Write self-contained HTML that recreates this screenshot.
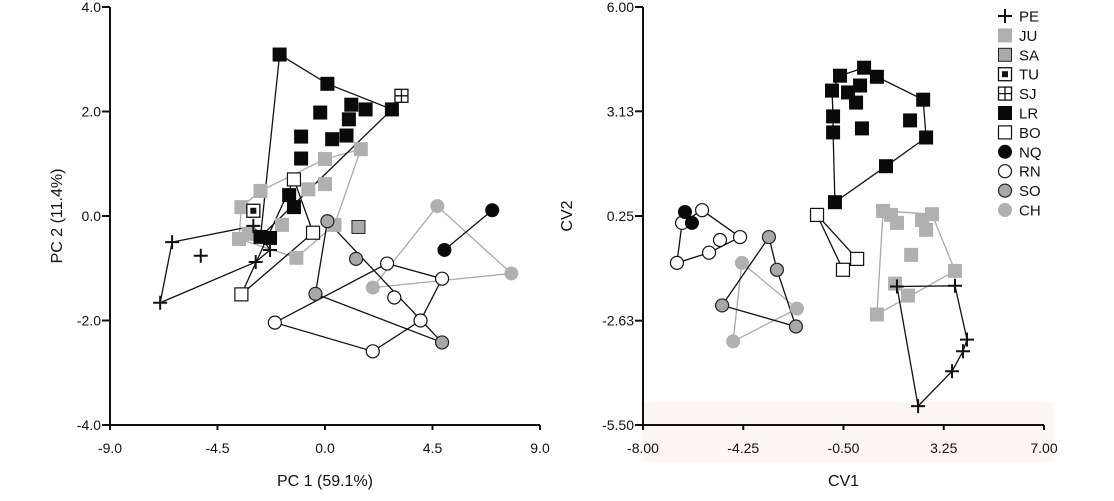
<!DOCTYPE html>
<html><head><meta charset="utf-8"><style>
body{margin:0;background:#fff;}
svg text{font-family:"Liberation Sans",Arial,sans-serif;fill:#111;}
</style></head><body>
<svg id="chart" width="1114" height="496" viewBox="0 0 1114 496" xmlns="http://www.w3.org/2000/svg">
<rect x="643" y="402" width="410" height="60" fill="#fcf6f4"/>
<g id="left"></g>
<g id="right"></g>
<g id="legend"></g>
</svg>
<script>
// ---------- data: PCA panel ----------
const pcaXTicks = [-9.0, -4.5, 0.0, 4.5, 9.0];
const pcaYTicks = [4.0, 2.0, 0.0, -2.0, -4.0];
const pcaLR = [[-1.9,3.09],[0.1,2.53],[1.1,2.13],[1.7,2.04],[2.8,2.04],[-0.2,1.98],[1.0,1.85],[-1.0,1.52],[0.3,1.47],[0.9,1.54],[-1.0,1.10],[-1.5,0.40],[-1.3,0.17],[-2.7,-0.40],[-2.3,-0.42]];
const pcaLRHull = [0,1,4,13];
const pcaJU = [[1.5,1.28],[0.0,1.09],[-2.7,0.48],[-3.5,0.17],[-0.7,0.51],[0.0,0.61],[-1.8,-0.17],[0.4,-0.17],[-3.6,-0.44],[-3.2,-0.34],[-1.2,-0.80]];
const pcaJUHull = [0,1,2,3,8,10,7];
const pcaSA = [[1.4,-0.21]];
const pcaTU = [[-3.0,0.10]];
const pcaSJ = [[3.2,2.3]];
const pcaBO = [[-1.3,0.70],[-0.5,-0.32],[-3.5,-1.50]];
const pcaBOHull = [0,1,2];
const pcaPE = [[-6.4,-0.50],[-5.2,-0.76],[-6.9,-1.66],[-3.0,-0.19],[-2.9,-0.88],[-2.3,-0.65]];
const pcaPEHull = [0,3,5,4,2];
const pcaNQ = [[7.0,0.11],[5.0,-0.65]];
const pcaNQHull = [0,1];
const pcaCH = [[4.7,0.19],[7.8,-1.10],[2.0,-1.37]];
const pcaCHHull = [0,1,2];
const pcaSO = [[0.1,-0.10],[1.3,-0.82],[-0.4,-1.49],[4.9,-2.42]];
const pcaSOHull = [0,3,2];
const pcaRN = [[2.6,-0.91],[4.9,-1.20],[2.9,-1.56],[4.0,-2.0],[-2.1,-2.04],[2.0,-2.59]];
const pcaRNHull = [0,1,3,5,4];
// ---------- data: CVA panel ----------
const cvaXTicks = ["-8.00","-4.25","-0.50","3.25","7.00"];
const cvaYTicks = ["6.00","3.13","0.25","-2.63","-5.50"];
const cvaLR = [[-0.63,4.11],[0.27,4.33],[0.75,4.08],[-0.93,3.70],[-0.33,3.65],[0.12,3.84],[-0.03,3.37],[2.48,3.45],[-0.89,2.99],[-0.89,2.55],[0.19,2.66],[1.99,2.88],[2.59,2.41],[1.09,1.62],[-0.82,0.63]];
const cvaLRHull = [0,1,2,7,12,13,14,9,8,3];
const cvaBO = [[-1.49,0.28],[0.01,-0.93],[-0.52,-1.23]];
const cvaBOHull = [0,1,2];
const cvaJU = [[0.98,0.39],[1.28,0.28],[1.50,0.06],[2.44,0.14],[2.81,0.30],[2.59,-0.13],[2.03,-0.82],[3.67,-1.26],[1.43,-1.61],[1.91,-1.94],[0.75,-2.46]];
const cvaJUHull = [0,4,7,10];
const cvaPE = [[1.50,-1.69],[3.67,-1.67],[4.12,-3.15],[3.97,-3.47],[3.56,-4.02],[2.29,-4.98]];
const cvaPEHull = [0,1,2,3,4,5];
const cvaNQ = [[-6.43,0.36],[-6.17,0.06]];
const cvaRN = [[-5.79,0.41],[-6.54,0.06],[-4.37,-0.33],[-5.12,-0.41],[-5.53,-0.76],[-6.73,-1.04]];
const cvaRNHull = [0,2,4,5,1];
const cvaSO = [[-3.29,-0.33],[-2.99,-1.23],[-5.04,-2.21],[-2.28,-2.79]];
const cvaSOHull = [0,1,3,2];
const cvaCH = [[-4.30,-1.04],[-2.24,-2.30],[-4.63,-3.20]];
const cvaCHHull = [0,1,2];
const legendLabels = ["PE","JU","SA","TU","SJ","LR","BO","NQ","RN","SO","CH"];

const NS="http://www.w3.org/2000/svg";
function mk(tag,attrs,parent){const e=document.createElementNS(NS,tag);for(const k in attrs)e.setAttribute(k,attrs[k]);parent.appendChild(e);return e;}

function marker(g,type,cx,cy){
  const s=7;let e;
  if(type==="PE"){e=mk('g',{},g);mk('path',{d:`M${cx-7} ${cy}H${cx+7}M${cx} ${cy-7}V${cy+7}`,stroke:'#111','stroke-width':2},e);}
  else if(type==="JU"){e=mk('rect',{x:cx-s,y:cy-s,width:2*s,height:2*s,fill:'#b0b0b0'},g);}
  else if(type==="SA"){e=mk('rect',{x:cx-s+0.5,y:cy-s+0.5,width:2*s-1,height:2*s-1,fill:'#aaa',stroke:'#222','stroke-width':1},g);}
  else if(type==="TU"){e=mk('g',{},g);mk('rect',{x:cx-s+0.5,y:cy-s+0.5,width:2*s-1,height:2*s-1,fill:'#fff',stroke:'#111','stroke-width':1.3},e);mk('rect',{x:cx-3,y:cy-3,width:6,height:6,fill:'#111'},e);}
  else if(type==="SJ"){e=mk('g',{},g);mk('rect',{x:cx-s+0.5,y:cy-s+0.5,width:2*s-1,height:2*s-1,fill:'#fff',stroke:'#111','stroke-width':1.3},e);mk('path',{d:`M${cx-s} ${cy}H${cx+s}M${cx} ${cy-s}V${cy+s}`,stroke:'#111','stroke-width':1.3},e);}
  else if(type==="LR"){e=mk('rect',{x:cx-s,y:cy-s,width:2*s,height:2*s,fill:'#0a0a0a'},g);}
  else if(type==="BO"){e=mk('rect',{x:cx-s+0.5,y:cy-s+0.5,width:2*s-1,height:2*s-1,fill:'#fff',stroke:'#111','stroke-width':1.2},g);}
  else if(type==="NQ"){e=mk('circle',{cx,cy,r:7,fill:'#0a0a0a'},g);}
  else if(type==="RN"){e=mk('circle',{cx,cy,r:6.5,fill:'#fff',stroke:'#111','stroke-width':1.2},g);}
  else if(type==="SO"){e=mk('circle',{cx,cy,r:6.5,fill:'#a8a8a8',stroke:'#222','stroke-width':1.2},g);}
  else if(type==="CH"){e=mk('circle',{cx,cy,r:7,fill:'#b0b0b0'},g);}
  
  
  return e;
}

function panel(gid,cfg){
  const g=document.getElementById(gid);
  const sx=v=>cfg.x0+(v-cfg.xmin)/(cfg.xmax-cfg.xmin)*(cfg.x1-cfg.x0);
  const sy=v=>cfg.y0+(cfg.ymax-v)/(cfg.ymax-cfg.ymin)*(cfg.y1-cfg.y0);
  const ax=mk('path',{d:`M${cfg.x0} ${cfg.y0}V${cfg.y1}H${cfg.x1}`,stroke:'#111','stroke-width':2,fill:'none'},g);
  
  cfg.xticks.forEach(t=>{const v=+t;const x=sx(v);
    mk('line',{x1:x,x2:x,y1:cfg.y1,y2:cfg.y1+5,stroke:'#111','stroke-width':2},g);
    const tx=mk('text',{x:x,y:cfg.y1+28,'text-anchor':'middle','font-size':14},g);tx.textContent=cfg.xfmt(t);
    });
  cfg.yticks.forEach(t=>{const v=+t;const y=sy(v);
    mk('line',{x1:cfg.x0-8,x2:cfg.x0,y1:y,y2:y,stroke:'#111','stroke-width':2},g);
    const tx=mk('text',{x:cfg.x0-9,y:y+5,'text-anchor':'end','font-size':14},g);tx.textContent=cfg.yfmt(t);
    });
  const xt=mk('text',{x:(cfg.x0+cfg.x1)/2,y:486,'text-anchor':'middle','font-size':16},g);xt.textContent=cfg.xtitle;
  
  const yt=mk('text',{x:0,y:0,'text-anchor':'middle','font-size':16,transform:`translate(${cfg.ytx},${(cfg.y0+cfg.y1)/2}) rotate(-90)`},g);yt.textContent=cfg.ytitle;
  
  const hg=mk('g',{},g);
  const pg=mk('g',{},g);
  cfg.groups.forEach(([type,pts,hull,col])=>{
    if(hull&&hull.length>1){
      const d=hull.map((i,k)=>(k?'L':'M')+sx(pts[i][0])+' '+sy(pts[i][1])).join('')+(hull.length>2?'Z':'');
      const p=mk('path',{d,fill:'none',stroke:col,'stroke-width':1.3},hg);
      
    }
    pts.forEach(pt=>marker(pg,type,sx(pt[0]),sy(pt[1])));
  });
}

panel('left',{x0:110,x1:540,y0:7,y1:425,xmin:-9,xmax:9,ymin:-4,ymax:4,
  xticks:pcaXTicks,yticks:pcaYTicks,xfmt:t=>(+t).toFixed(1),yfmt:t=>(+t).toFixed(1),
  xtitle:"PC 1 (59.1%)",ytitle:"PC 2 (11.4%)",ytx:62,
  groups:[["CH",pcaCH,pcaCHHull,'#aaa'],["JU",pcaJU,pcaJUHull,'#aaa'],["SO",pcaSO,pcaSOHull,'#111'],["RN",pcaRN,pcaRNHull,'#111'],
  ["NQ",pcaNQ,pcaNQHull,'#111'],["LR",pcaLR,pcaLRHull,'#111'],["BO",pcaBO,pcaBOHull,'#111'],["PE",pcaPE,pcaPEHull,'#111'],
  ["SA",pcaSA,null,''],["TU",pcaTU,null,''],["SJ",pcaSJ,null,'']]});

panel('right',{x0:643,x1:1044,y0:7,y1:425,xmin:-8,xmax:7,ymin:-5.5,ymax:6,
  xticks:cvaXTicks,yticks:cvaYTicks,xfmt:t=>t,yfmt:t=>t,
  xtitle:"CV1",ytitle:"CV2",ytx:572,
  groups:[["CH",cvaCH,cvaCHHull,'#aaa'],["JU",cvaJU,cvaJUHull,'#aaa'],["SO",cvaSO,cvaSOHull,'#111'],["RN",cvaRN,cvaRNHull,'#111'],
  ["NQ",cvaNQ,null,''],["LR",cvaLR,cvaLRHull,'#111'],["BO",cvaBO,cvaBOHull,'#111'],["PE",cvaPE,cvaPEHull,'#111']]});

const lg=document.getElementById('legend');
legendLabels.forEach((lab,i)=>{
  const y=16+i*19.4;
  const row=mk('g',{},lg);
  
  
  marker(row,lab,1005,y);
  const t=mk('text',{x:1019,y:y+5.5,'font-size':15},row);t.textContent=lab;
});
</script>
</body></html>
